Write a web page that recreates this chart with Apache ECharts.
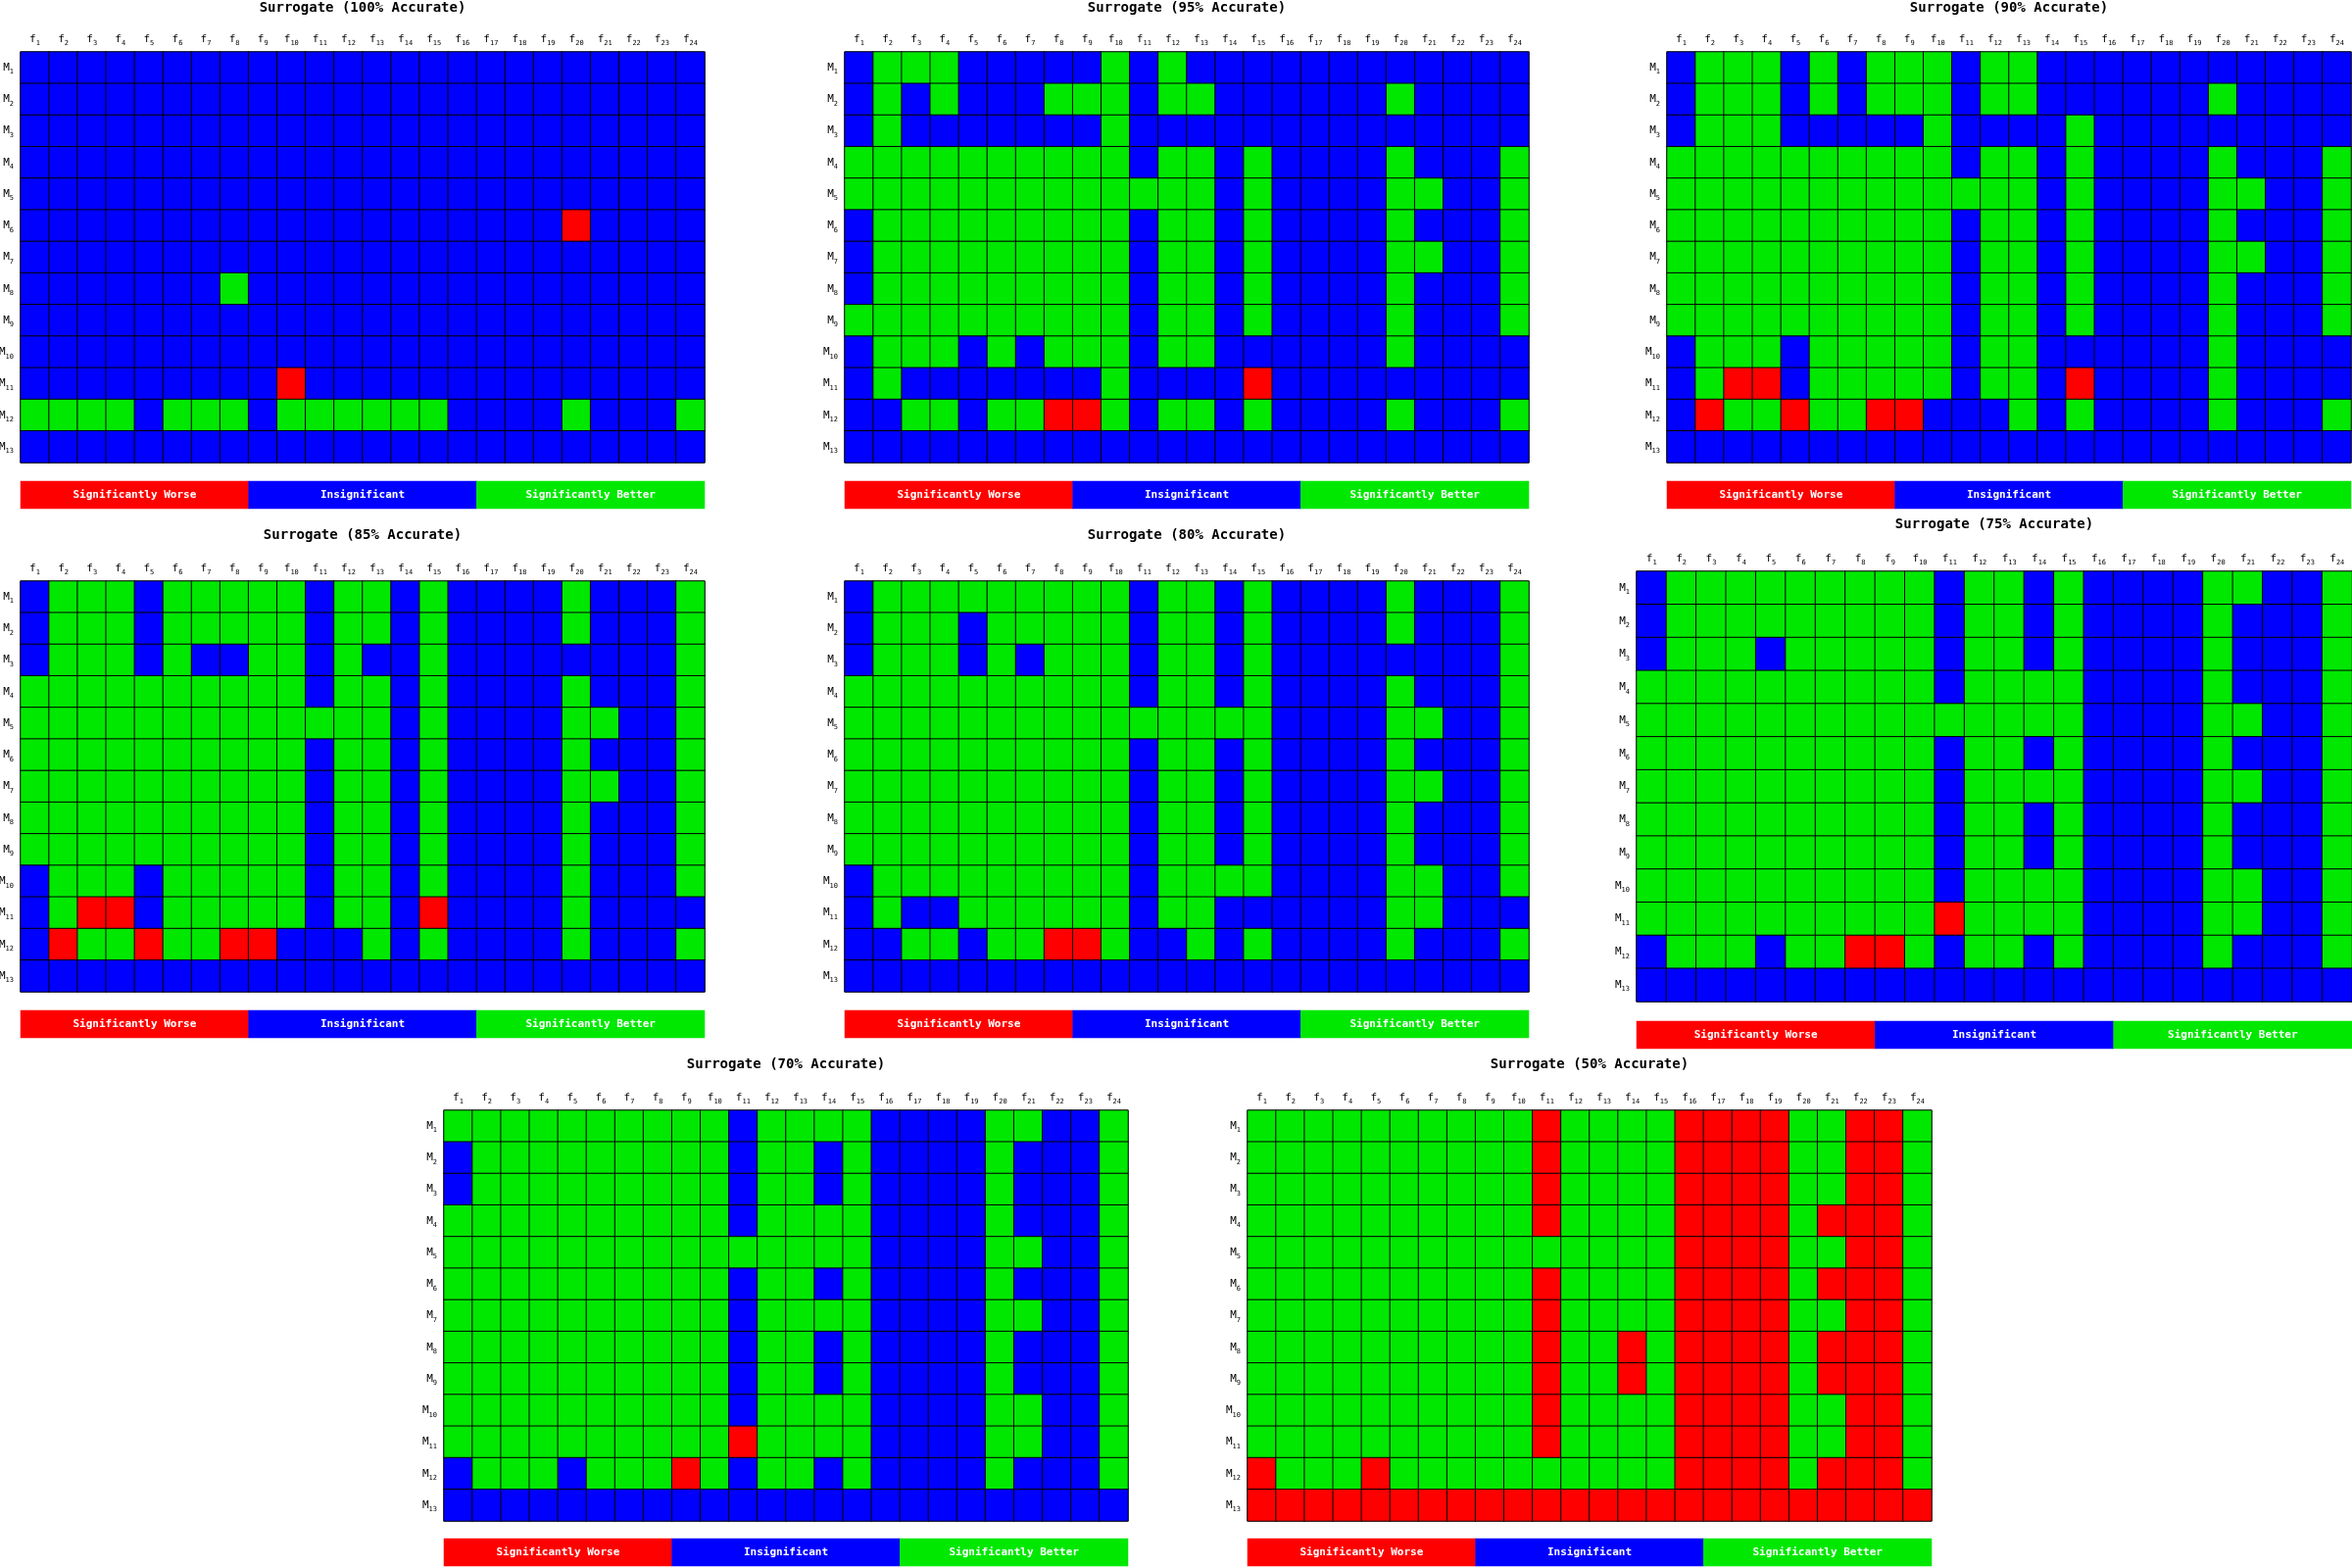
<!DOCTYPE html>
<html><head><meta charset="utf-8">
<script src="https://cdn.jsdelivr.net/npm/echarts@6/dist/echarts.min.js"></script>
<style>html,body{margin:0;padding:0;background:#fff}#c{width:2400px;height:1600px}</style>
</head><body><div id="c"></div><script>
const features = ['f1','f2','f3','f4','f5','f6','f7','f8','f9','f10','f11','f12','f13','f14','f15','f16','f17','f18','f19','f20','f21','f22','f23','f24'];
const models = ['M1','M2','M3','M4','M5','M6','M7','M8','M9','M10','M11','M12','M13'];
const legendLabels = ['Significantly Worse','Insignificant','Significantly Better'];
const titles = ['Surrogate (100% Accurate)','Surrogate (95% Accurate)','Surrogate (90% Accurate)','Surrogate (85% Accurate)','Surrogate (80% Accurate)','Surrogate (75% Accurate)','Surrogate (70% Accurate)','Surrogate (50% Accurate)'];
// cell codes: r = Significantly Worse, b = Insignificant, g = Significantly Better (groups of f1-5, f6-10, f11-15, f16-20, f21-24)
const acc100 = [
 'bbbbb bbbbb bbbbb bbbbb bbbb','bbbbb bbbbb bbbbb bbbbb bbbb','bbbbb bbbbb bbbbb bbbbb bbbb','bbbbb bbbbb bbbbb bbbbb bbbb',
 'bbbbb bbbbb bbbbb bbbbb bbbb','bbbbb bbbbb bbbbb bbbbr bbbb','bbbbb bbbbb bbbbb bbbbb bbbb','bbbbb bbgbb bbbbb bbbbb bbbb',
 'bbbbb bbbbb bbbbb bbbbb bbbb','bbbbb bbbbb bbbbb bbbbb bbbb','bbbbb bbbbr bbbbb bbbbb bbbb','ggggb gggbg ggggg bbbbg bbbg',
 'bbbbb bbbbb bbbbb bbbbb bbbb'];
const acc95 = [
 'bgggb bbbbg bgbbb bbbbb bbbb','bgbgb bbggg bggbb bbbbg bbbb','bgbbb bbbbg bbbbb bbbbb bbbb','ggggg ggggg bggbg bbbbg bbbg',
 'ggggg ggggg gggbg bbbbg gbbg','bgggg ggggg bggbg bbbbg bbbg','bgggg ggggg bggbg bbbbg gbbg','bgggg ggggg bggbg bbbbg bbbg',
 'ggggg ggggg bggbg bbbbg bbbg','bgggb gbggg bggbb bbbbg bbbb','bgbbb bbbbg bbbbr bbbbb bbbb','bbggb ggrrg bggbg bbbbg bbbg',
 'bbbbb bbbbb bbbbb bbbbb bbbb'];
const acc90 = [
 'bgggb gbggg bggbb bbbbb bbbb','bgggb gbggg bggbb bbbbg bbbb','bgggb bbbbg bbbbg bbbbb bbbb','ggggg ggggg bggbg bbbbg bbbg',
 'ggggg ggggg gggbg bbbbg gbbg','ggggg ggggg bggbg bbbbg bbbg','ggggg ggggg bggbg bbbbg gbbg','ggggg ggggg bggbg bbbbg bbbg',
 'ggggg ggggg bggbg bbbbg bbbg','bgggb ggggg bggbb bbbbg bbbb','bgrrb ggggg bggbr bbbbg bbbb','brggr ggrrb bbgbg bbbbg bbbg',
 'bbbbb bbbbb bbbbb bbbbb bbbb'];
const acc85 = [
 'bgggb ggggg bggbg bbbbg bbbg','bgggb ggggg bggbg bbbbg bbbg','bgggb gbbgg bgbbg bbbbb bbbg','ggggg ggggg bggbg bbbbg bbbg',
 'ggggg ggggg gggbg bbbbg gbbg','ggggg ggggg bggbg bbbbg bbbg','ggggg ggggg bggbg bbbbg gbbg','ggggg ggggg bggbg bbbbg bbbg',
 'ggggg ggggg bggbg bbbbg bbbg','bgggb ggggg bggbg bbbbg bbbg','bgrrb ggggg bggbr bbbbg bbbb','brggr ggrrb bbgbg bbbbg bbbg',
 'bbbbb bbbbb bbbbb bbbbb bbbb'];
const acc80 = [
 'bgggg ggggg bggbg bbbbg bbbg','bgggb ggggg bggbg bbbbg bbbg','bgggb gbggg bggbg bbbbb bbbg','ggggg ggggg bggbg bbbbg bbbg',
 'ggggg ggggg ggggg bbbbg gbbg','ggggg ggggg bggbg bbbbg bbbg','ggggg ggggg bggbg bbbbg gbbg','ggggg ggggg bggbg bbbbg bbbg',
 'ggggg ggggg bggbg bbbbg bbbg','bgggg ggggg bgggg bbbbg gbbg','bgbbg ggggg bggbb bbbbg gbbb','bbggb ggrrg bbgbg bbbbg bbbg',
 'bbbbb bbbbb bbbbb bbbbb bbbb'];
const acc75 = [
 'bgggg ggggg bggbg bbbbg gbbg','bgggg ggggg bggbg bbbbg bbbg','bgggb ggggg bggbg bbbbg bbbg','ggggg ggggg bgggg bbbbg bbbg',
 'ggggg ggggg ggggg bbbbg gbbg','ggggg ggggg bggbg bbbbg bbbg','ggggg ggggg bgggg bbbbg gbbg','ggggg ggggg bggbg bbbbg bbbg',
 'ggggg ggggg bggbg bbbbg bbbg','ggggg ggggg bgggg bbbbg gbbg','ggggg ggggg rgggg bbbbg gbbg','bgggb ggrrg bggbg bbbbg bbbg',
 'bbbbb bbbbb bbbbb bbbbb bbbb'];
const acc70 = [
 'ggggg ggggg bgggg bbbbg gbbg','bgggg ggggg bggbg bbbbg bbbg','bgggg ggggg bggbg bbbbg bbbg','ggggg ggggg bgggg bbbbg bbbg',
 'ggggg ggggg ggggg bbbbg gbbg','ggggg ggggg bggbg bbbbg bbbg','ggggg ggggg bgggg bbbbg gbbg','ggggg ggggg bggbg bbbbg bbbg',
 'ggggg ggggg bggbg bbbbg bbbg','ggggg ggggg bgggg bbbbg gbbg','ggggg ggggg rgggg bbbbg gbbg','bgggb gggrg bggbg bbbbg bbbg',
 'bbbbb bbbbb bbbbb bbbbb bbbb'];
const acc50 = [
 'ggggg ggggg rgggg rrrrg grrg','ggggg ggggg rgggg rrrrg grrg','ggggg ggggg rgggg rrrrg grrg','ggggg ggggg rgggg rrrrg rrrg',
 'ggggg ggggg ggggg rrrrg grrg','ggggg ggggg rgggg rrrrg rrrg','ggggg ggggg rgggg rrrrg grrg','ggggg ggggg rggrg rrrrg rrrg',
 'ggggg ggggg rggrg rrrrg rrrg','ggggg ggggg rgggg rrrrg grrg','ggggg ggggg rgggg rrrrg grrg','rgggr ggggg ggggg rrrrg rrrg',
 'rrrrr rrrrr rrrrr rrrrr rrrr'];
const panels = [acc100, acc95, acc90, acc85, acc80, acc75, acc70, acc50];

const codeMap = {r:0, b:1, g:2};
const colors = ['#ff0000', '#0000ff', '#00e800'];
const FONT = 'DejaVu Sans Mono';

const layout = [
 {left:21, top:53, w:698, h:419, legendTop:491, titleY:8},
 {left:862, top:53, w:698, h:419, legendTop:491, titleY:8},
 {left:1701, top:53, w:698, h:419, legendTop:491, titleY:8},
 {left:21, top:593, w:698, h:419, legendTop:1031, titleY:546},
 {left:862, top:593, w:698, h:419, legendTop:1031, titleY:546},
 {left:1670, top:583, w:730, h:439, legendTop:1042, titleY:535},
 {left:453, top:1133, w:698, h:419, legendTop:1570, titleY:1086},
 {left:1273, top:1133, w:698, h:419, legendTop:1570, titleY:1086}
];

function toCells(rows){
  const out = [];
  rows.forEach((r, y) => {
    const s = r.replace(/ /g, '');
    for (let x = 0; x < s.length; x++) out.push([x, y, codeMap[s[x]]]);
  });
  return out;
}
const rich = {
  a: {fontSize: 11, fontFamily: FONT, color: '#000', lineHeight: 16},
  b: {fontSize: 7, fontFamily: FONT, color: '#000', lineHeight: 9, verticalAlign: 'bottom'}
};
const subFmt = v => '{a|' + v[0] + '}{b|' + v.slice(1) + '}';

const grids = [], xAxes = [], yAxes = [], series = [];
panels.forEach((P, i) => {
  const L = layout[i];
  const gi = grids.length;
  grids.push({left: L.left, top: L.top, width: L.w, height: L.h, show: true, borderColor: '#aaaaaa', borderWidth: 1, outerBoundsMode: 'none', containLabel: false});
  xAxes.push({type: 'category', gridIndex: gi, data: features, position: 'top',
    name: titles[i], nameLocation: 'middle', nameGap: L.top - L.titleY - 7,
    nameTextStyle: {fontFamily: FONT, fontWeight: 'bold', fontSize: 14, color: '#000'},
    axisLine: {show: false}, axisTick: {show: false}, splitLine: {show: false},
    axisLabel: {interval: 0, margin: 5, formatter: subFmt, rich: rich}});
  yAxes.push({type: 'category', gridIndex: gi, data: models, inverse: true,
    axisLine: {show: false}, axisTick: {show: false}, splitLine: {show: false},
    axisLabel: {interval: 0, margin: 7, formatter: subFmt, rich: rich}});
  series.push({type: 'heatmap', xAxisIndex: gi, yAxisIndex: gi, data: toCells(P),
    itemStyle: {borderColor: '#000', borderWidth: 1}, emphasis: {disabled: true}, progressive: 0});
  const lg = grids.length;
  grids.push({left: L.left, top: L.legendTop, width: L.w, height: 28, outerBoundsMode: 'none', containLabel: false});
  xAxes.push({type: 'category', gridIndex: lg, data: legendLabels, show: false});
  yAxes.push({type: 'category', gridIndex: lg, data: [''], show: false});
  series.push({type: 'heatmap', xAxisIndex: lg, yAxisIndex: lg,
    data: [[0,0,0],[1,0,1],[2,0,2]],
    label: {show: true, formatter: p => legendLabels[p.value[0]], color: '#fff', fontWeight: 'bold', fontSize: 11, fontFamily: FONT},
    itemStyle: {borderWidth: 0}, emphasis: {disabled: true}});
});

const chart = echarts.init(document.getElementById('c'), null, {renderer: 'canvas'});
chart.setOption({
  animation: false,
  backgroundColor: '#fff',
  grid: grids, xAxis: xAxes, yAxis: yAxes,
  visualMap: {type: 'piecewise', show: false, dimension: 2, seriesIndex: series.map((s, i) => i),
    pieces: [{value: 0, color: colors[0]}, {value: 1, color: colors[1]}, {value: 2, color: colors[2]}]},
  series: series
});
</script></body></html>
